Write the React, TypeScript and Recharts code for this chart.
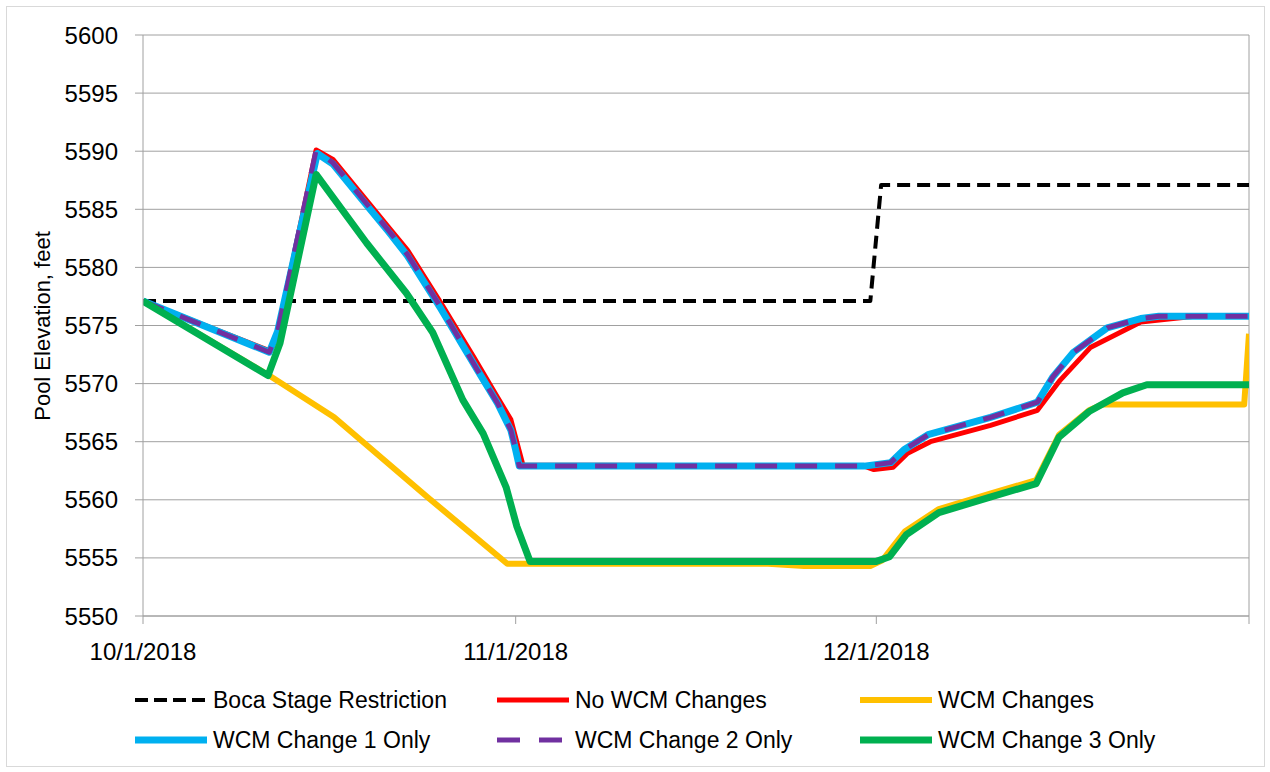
import { CartesianGrid, Line, LineChart, ReferenceLine, XAxis, YAxis } from 'recharts';

// x = days since 10/1/2018, y = pool elevation (ft)
const xTicks = [0, 31, 61, 92];
const xTickLabels = ['10/1/2018', '11/1/2018', '12/1/2018', ''];
const yTicks = [5550, 5555, 5560, 5565, 5570, 5575, 5580, 5585, 5590, 5595, 5600];

const bocaDays = [0, 60.5, 61.4, 92];
const bocaElev = [5577.1, 5577.1, 5587.1, 5587.1];

const noChangeDays = [0, 10.6, 11.2, 14.4, 15.8, 18.1, 20.4, 22.0, 24.8, 27.5, 29.5, 30.6, 31.6, 60.0, 60.8, 62.4, 63.6, 65.5, 70.5, 74.4, 76.3, 78.8, 83.0, 85.7, 87.5, 92];
const noChangeElev = [5577.1, 5572.8, 5574.4, 5590.1, 5589.3, 5586.4, 5583.5, 5581.5, 5576.9, 5572.3, 5568.8, 5566.9, 5563.0, 5562.9, 5562.6, 5562.8, 5564.0, 5565.0, 5566.4, 5567.7, 5570.3, 5573.1, 5575.3, 5575.6, 5575.8, 5575.8];

const wcmDays = [0, 10.5, 15.9, 23.7, 30.3, 32, 52, 55, 60.5, 61.5, 62.4, 63.4, 66.2, 70.4, 74.3, 76.2, 78.7, 79.8, 91.6, 92];
const wcmElev = [5577.1, 5570.7, 5567.1, 5560.2, 5554.5, 5554.5, 5554.5, 5554.3, 5554.3, 5554.8, 5556.0, 5557.3, 5559.2, 5560.5, 5561.7, 5565.6, 5567.7, 5568.2, 5568.2, 5574.3];

const change1Days = [0, 10.5, 11.2, 14.5, 15.8, 18.1, 20.4, 22.0, 24.8, 27.8, 29.5, 30.6, 31.0, 31.3, 60.0, 62.2, 63.3, 65.3, 70.5, 74.4, 75.7, 77.4, 80.2, 83.0, 84.5, 92];
const change1Elev = [5577.1, 5572.7, 5574.5, 5589.8, 5588.9, 5586.0, 5583.1, 5581.0, 5576.4, 5571.2, 5568.3, 5566.0, 5564.3, 5562.9, 5562.9, 5563.2, 5564.3, 5565.6, 5567.1, 5568.4, 5570.6, 5572.7, 5574.8, 5575.6, 5575.8, 5575.8];

const change2Days = [0, 10.5, 11.2, 14.4, 15.8, 18.1, 20.4, 22.0, 24.8, 27.8, 29.5, 30.6, 31.0, 31.3, 60.0, 62.2, 63.3, 65.3, 70.5, 74.4, 75.7, 77.4, 80.2, 83.0, 84.5, 92];
const change2Elev = [5577.1, 5572.7, 5574.5, 5590.1, 5589.0, 5586.1, 5583.2, 5581.1, 5576.5, 5571.2, 5568.3, 5566.0, 5564.3, 5562.9, 5562.9, 5563.2, 5564.3, 5565.6, 5567.1, 5568.4, 5570.6, 5572.7, 5574.8, 5575.6, 5575.8, 5575.8];

const change3Days = [0, 10.4, 11.4, 14.4, 18.6, 21.9, 24.1, 26.6, 28.3, 30.2, 31.1, 32.2, 61.0, 62.1, 63.5, 66.2, 70.4, 74.3, 76.2, 78.7, 81.5, 83.5, 92];
const change3Elev = [5577.1, 5570.7, 5573.5, 5588.0, 5582.1, 5577.8, 5574.4, 5568.6, 5565.7, 5561.1, 5557.7, 5554.7, 5554.7, 5555.1, 5557.0, 5558.9, 5560.2, 5561.4, 5565.4, 5567.6, 5569.2, 5569.9, 5569.9];

const toPoints = (days: number[], vals: number[]) => days.map((d, i) => ({ d, v: vals[i] }));

const series = [
  { name: 'Boca Stage Restriction', data: toPoints(bocaDays, bocaElev), color: '#000000', width: 4, dash: '13 7', legendDash: '13 6' },
  { name: 'No WCM Changes', data: toPoints(noChangeDays, noChangeElev), color: '#FF0000', width: 5, dash: undefined, legendDash: undefined },
  { name: 'WCM Changes', data: toPoints(wcmDays, wcmElev), color: '#FFC000', width: 6, dash: undefined, legendDash: undefined },
  { name: 'WCM Change 1 Only', data: toPoints(change1Days, change1Elev), color: '#00B0F0', width: 7, dash: undefined, legendDash: undefined },
  { name: 'WCM Change 2 Only', data: toPoints(change2Days, change2Elev), color: '#7030A0', width: 5, dash: '22 18', legendDash: '23 19' },
  { name: 'WCM Change 3 Only', data: toPoints(change3Days, change3Elev), color: '#00B050', width: 7, dash: undefined, legendDash: undefined },
];

const FONT = '"Liberation Sans", Arial, sans-serif';
const GRID = '#a0a0a0';

function Legend() {
  const cols = [135, 497, 860];
  const rows = [700, 740];
  return (
    <svg width={1270} height={772} style={{ position: 'absolute', left: 0, top: 0, pointerEvents: 'none' }}>
      {series.map((s, i) => {
        const x = cols[i % 3];
        const y = rows[Math.floor(i / 3)];
        return (
          <g key={s.name}>
            <line x1={x} x2={x + 72} y1={y} y2={y} stroke={s.color} strokeWidth={s.width} strokeDasharray={s.legendDash} />
            <text x={x + 78} y={y + 8} fontSize={23} fontFamily={FONT} fill="#000">
              {s.name}
            </text>
          </g>
        );
      })}
    </svg>
  );
}

export default function App() {
  return (
    <div style={{ position: 'absolute', left: 0, top: 0, width: 1270, height: 772, background: '#fff' }}>
      <div style={{ position: 'absolute', left: 6, top: 6, width: 1257, height: 759, border: '1px solid #d9d9d9' }} />
      <LineChart width={1270} height={772} margin={{ top: 35, right: 21, left: 0, bottom: 100 }}>
        <CartesianGrid vertical={false} stroke={GRID} />
        <XAxis
          type="number"
          dataKey="d"
          domain={[0, 92]}
          ticks={xTicks}
          tickFormatter={(v: number) => xTickLabels[xTicks.indexOf(v)] ?? ''}
          height={56}
          tickSize={8}
          tickMargin={19}
          axisLine={{ stroke: GRID }}
          tickLine={{ stroke: GRID }}
          tick={{ fill: '#000', fontSize: 24, fontFamily: FONT }}
          allowDataOverflow
        />
        <YAxis
          domain={[5550, 5600]}
          ticks={yTicks}
          width={143}
          tickSize={8}
          tickMargin={17}
          axisLine={{ stroke: GRID }}
          tickLine={{ stroke: GRID }}
          tick={{ fill: '#000', fontSize: 24, fontFamily: FONT }}
          label={{
            content: () => (
              <text x={50} y={326} transform="rotate(-90 50 326)" textAnchor="middle" fontSize={22} fontFamily={FONT} fill="#000">
                Pool Elevation, feet
              </text>
            ),
          }}
        />
        <ReferenceLine x={92} stroke={GRID} />
        {series.map((s) => (
          <Line
            key={s.name}
            data={s.data}
            dataKey="v"
            name={s.name}
            type="linear"
            stroke={s.color}
            strokeWidth={s.width}
            strokeDasharray={s.dash}
            strokeLinejoin="round"
            dot={false}
            activeDot={false}
            isAnimationActive={false}
          />
        ))}
      </LineChart>
      <Legend />
    </div>
  );
}
